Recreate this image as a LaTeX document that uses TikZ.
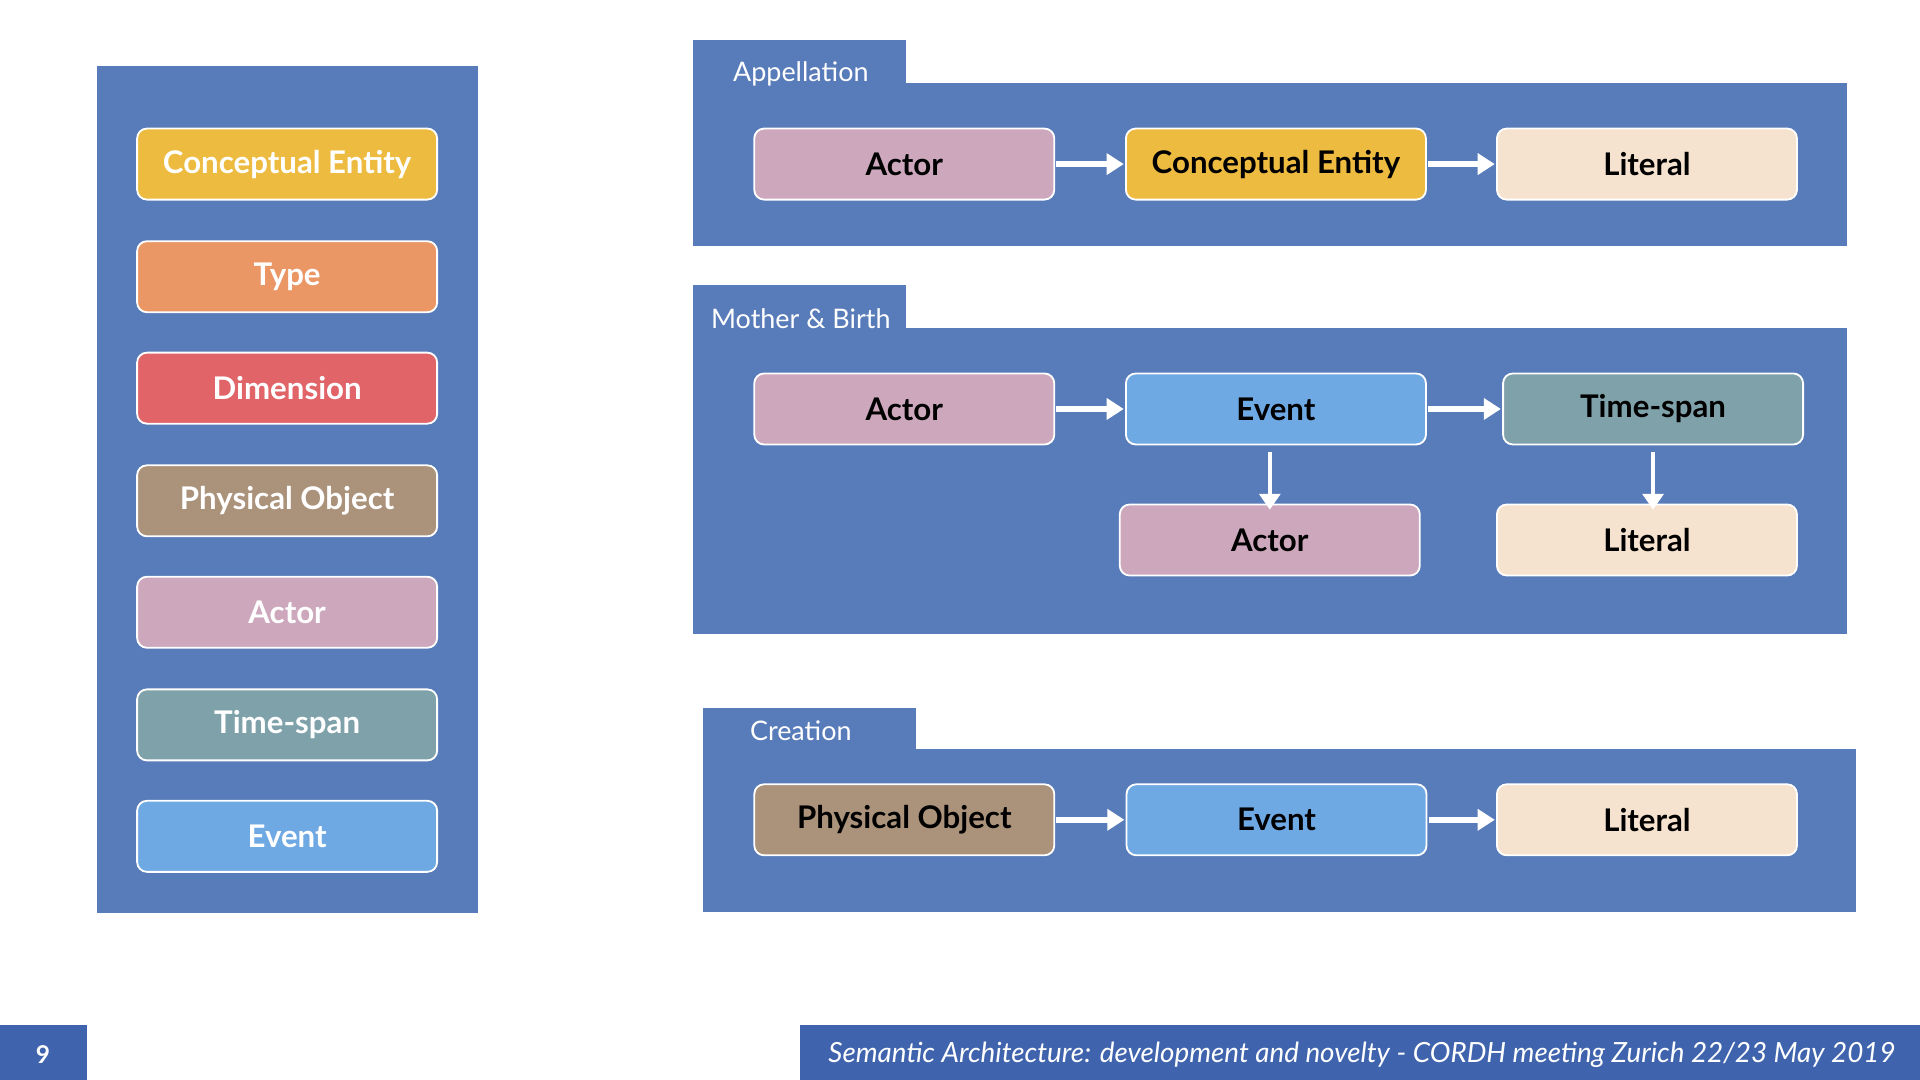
\documentclass[tikz,border=0pt]{standalone}
\usepackage{fontspec}
\setmainfont{Lato}
\usetikzlibrary{arrows.meta}
\definecolor{panel}{HTML}{587BB9}
\definecolor{foot}{HTML}{3F64AD}
\definecolor{cConc}{HTML}{EDBB3F}
\definecolor{cType}{HTML}{EB9665}
\definecolor{cDim}{HTML}{E06468}
\definecolor{cPhys}{HTML}{AA927B}
\definecolor{cActor}{HTML}{CDA8BD}
\definecolor{cTime}{HTML}{7FA1AA}
\definecolor{cEvent}{HTML}{6FA9E4}
\definecolor{cLit}{HTML}{F6E3CF}
\tikzset{
  ent/.style={draw=white, line width=1.5pt, rounded corners=8pt, minimum width=245pt, minimum height=58pt, inner sep=0pt, font=\fontsize{25.5}{30}\selectfont\bfseries},
  leg/.style={ent, text=white},
  dia/.style={ent, text=black},
  harr/.style={draw=white, line width=4.5pt, -{Triangle[length=14pt,width=17pt]}, shorten <=1pt, shorten >=1pt},
  varr/.style={draw=white, line width=3.3pt, -{Triangle[length=13pt,width=17pt]}},
  grplabel/.style={text=white, font=\fontsize{22}{26}\selectfont, inner sep=0pt},
}
\begin{document}
\begin{tikzpicture}[x=1pt,y=-1pt]
\useasboundingbox (0,0) rectangle (1568,882);
% left legend panel
\fill[panel] (79,54) rectangle (390,746);
\node[leg, fill=cConc]  (lconc)  at (234.5,134) {Conceptual Entity};
\node[leg, fill=cType]  (ltype)  at (234.5,226) {Type};
\node[leg, fill=cDim]   (ldim)   at (234.5,317) {Dimension};
\node[leg, fill=cPhys]  (lphys)  at (234.5,409) {Physical Object};
\node[leg, fill=cActor] (lactor) at (234.5,500) {Actor};
\node[leg, fill=cTime]  (ltime)  at (234.5,592) {Time-span};
\node[leg, fill=cEvent] (levent) at (234.5,683) {Event};
% Appellation
\fill[panel] (566,33) rectangle (740,68);
\fill[panel] (566,68) rectangle (1508,201);
\node[grplabel] (tapp) at (654,60) {Appellation};
\node[dia, fill=cActor] (a1) at (738.5,134) {Actor};
\node[dia, fill=cConc]  (a2) at (1042,134) {Conceptual Entity};
\node[dia, fill=cLit]   (a3) at (1345,134) {Literal};
\draw[harr] (a1) -- (a2);
\draw[harr] (a2) -- (a3);
% Mother & Birth
\fill[panel] (566,233) rectangle (740,268);
\fill[panel] (566,268) rectangle (1508,518);
\node[grplabel] (tmb) at (654,260) {Mother \& Birth};
\node[dia, fill=cActor] (m1) at (738.5,334) {Actor};
\node[dia, fill=cEvent] (m2) at (1042,334) {Event};
\node[dia, fill=cTime]  (m3) at (1350,334) {Time-span};
\node[dia, fill=cActor] (m4) at (1037,441) {Actor};
\node[dia, fill=cLit]   (m5) at (1345,441) {Literal};
\draw[harr] (m1) -- (m2);
\draw[harr] (m2) -- (m3);
\coordinate (m2d) at (1037,369);
\coordinate (m3d) at (1350,369);
\draw[varr] (m2d) -- ([yshift=-5pt]m4.north -| m2d);
\draw[varr] (m3d) -- ([yshift=-5pt]m5.north -| m3d);
% Creation
\fill[panel] (574,578) rectangle (748,612);
\fill[panel] (574,612) rectangle (1516,745);
\node[grplabel] (tcr) at (654,597) {Creation};
\node[dia, fill=cPhys]  (c1) at (738.5,669.5) {Physical Object};
\node[dia, fill=cEvent] (c2) at (1042.5,669.5) {Event};
\node[dia, fill=cLit]   (c3) at (1345,669.5) {Literal};
\draw[harr] (c1) -- (c2);
\draw[harr] (c2) -- (c3);
% footer
\fill[foot] (0,837) rectangle (71,882);
\node[text=white, font=\fontsize{20}{24}\selectfont\bfseries] (pg) at (35,861) {9};
\fill[foot] (653,837) rectangle (1568,882);
\node[text=white, anchor=east, font=\fontsize{22.7}{27}\selectfont\itshape, inner sep=0pt] (ft) at (1548,861) {Semantic Architecture: development and novelty - CORDH meeting Zurich 22/23 May 2019};
\end{tikzpicture}
\end{document}
